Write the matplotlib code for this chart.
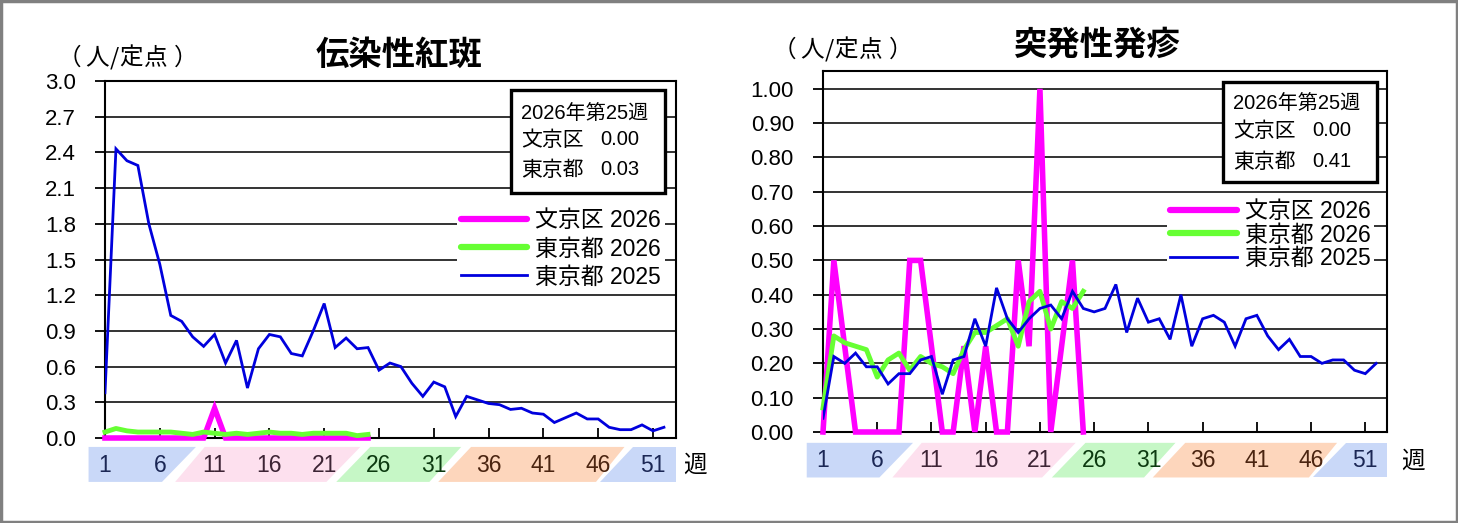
import matplotlib
matplotlib.use('Agg')
import matplotlib.pyplot as plt
from matplotlib.patches import Polygon, Rectangle
from matplotlib.lines import Line2D
import matplotlib.transforms as mtransforms

FONT = ['Liberation Sans', 'Noto Sans CJK JP']
CJK = ['Noto Sans CJK JP', 'Liberation Sans']
plt.rcParams['font.family'] = FONT

# ---------------- data ----------------
weeks_2025 = list(range(1, 53))
weeks_2026 = list(range(1, 26))
tick_weeks = [1, 6, 11, 16, 21, 26, 31, 36, 41, 46, 51]
tick_labels = ['1', '6', '11', '16', '21', '26', '31', '36', '41', '46', '51']

series_labels = ['文京区 2026', '東京都 2026', '東京都 2025']
unit_label = '（人/定点）'

# 伝染性紅斑
er_title = '伝染性紅斑'
er_bunkyo_2026 = [0, 0, 0, 0, 0, 0, 0, 0, 0, 0, 0.25, 0, 0, 0, 0, 0, 0, 0, 0, 0,
                  0, 0, 0, 0, 0]
er_tokyo_2026 = [0.05, 0.08, 0.06, 0.05, 0.05, 0.05, 0.05, 0.04, 0.03, 0.05,
                 0.04, 0.03, 0.04, 0.03, 0.04, 0.05, 0.04, 0.04, 0.03, 0.04,
                 0.04, 0.04, 0.04, 0.02, 0.03]
er_tokyo_2025 = [0.38, 2.43, 2.33, 2.29, 1.80, 1.46, 1.03, 0.98, 0.85, 0.77,
                 0.87, 0.63, 0.82, 0.42, 0.75, 0.87, 0.85, 0.71, 0.69, 0.90,
                 1.13, 0.76, 0.84, 0.75, 0.76, 0.57, 0.63, 0.60, 0.46, 0.35,
                 0.47, 0.43, 0.18, 0.35, 0.32, 0.29, 0.28, 0.24, 0.25, 0.21,
                 0.20, 0.13, 0.17, 0.21, 0.16, 0.16, 0.09, 0.07, 0.07, 0.11,
                 0.06, 0.09]
er_yticks = [0.0, 0.3, 0.6, 0.9, 1.2, 1.5, 1.8, 2.1, 2.4, 2.7, 3.0]
er_box = ['2026年第25週', '文京区', '0.00', '東京都', '0.03']

# 突発性発疹
es_title = '突発性発疹'
es_bunkyo_2026 = [0, 0.5, 0.25, 0, 0, 0, 0, 0, 0.5, 0.5, 0.25, 0, 0, 0.25, 0,
                  0.25, 0, 0, 0.5, 0.25, 1.0, 0, 0.25, 0.5, 0]
es_tokyo_2026 = [0.07, 0.28, 0.26, 0.25, 0.24, 0.16, 0.21, 0.23, 0.18, 0.22,
                 0.20, 0.19, 0.17, 0.24, 0.29, 0.29, 0.31, 0.33, 0.25, 0.38,
                 0.41, 0.30, 0.38, 0.36, 0.41]
es_tokyo_2025 = [0.04, 0.22, 0.20, 0.23, 0.19, 0.19, 0.14, 0.17, 0.17, 0.21,
                 0.22, 0.11, 0.21, 0.22, 0.33, 0.25, 0.42, 0.33, 0.29, 0.33,
                 0.36, 0.37, 0.33, 0.41, 0.36, 0.35, 0.36, 0.43, 0.29, 0.39,
                 0.32, 0.33, 0.27, 0.40, 0.25, 0.33, 0.34, 0.32, 0.25, 0.33,
                 0.34, 0.28, 0.24, 0.27, 0.22, 0.22, 0.20, 0.21, 0.21, 0.18,
                 0.17, 0.20]
es_yticks = [0.0, 0.1, 0.2, 0.3, 0.4, 0.5, 0.6, 0.7, 0.8, 0.9, 1.0]
es_box = ['2026年第25週', '文京区', '0.00', '東京都', '0.41']

# ---------------- styling ----------------
C_MAG = '#ff00ff'
C_GRN = '#66ff33'
C_BLU = '#0000dd'

# season bands: (bottom-left, top-left, bottom-right, top-right) in weeks
BLUE_BG, PINK_BG, GREEN_BG, ORANGE_BG = '#c9d8f8', '#fde0ee', '#c6f7c6', '#fdd6bc'
bands = [(-0.5, -0.5, 6.2, 9.3, BLUE_BG),
         (7.4, 10.1, 21.2, 24.3, PINK_BG),
         (22.1, 25.2, 30.6, 33.5, GREEN_BG),
         (31.4, 34.4, 45.8, 48.4, ORANGE_BG),
         (46.2, 49.2, None, None, BLUE_BG)]
label_colors = ['#1b2755', '#1b2755', '#3d2435', '#3d2435', '#3d2435',
                '#0c3a10', '#0c3a10', '#4a2410', '#4a2410', '#4a2410', '#1b2755']

fig = plt.figure(figsize=(14.58, 5.23), dpi=100)
W, H = 1458, 523


def px_axes(x0, y0, x1, y1):
    return fig.add_axes([x0 / W, 1 - y1 / H, (x1 - x0) / W, (y1 - y0) / H])


def draw_chart(ax, bunkyo, tokyo26, tokyo25, yticks, ylim, xmax, fmt,
               band_y, label_y, week_x, box_rect, box_lines_y, box_vals,
               leg_anchor, leg_spacing):
    ax.set_xlim(1, xmax)
    ax.set_ylim(*ylim)
    ax.plot(weeks_2026, bunkyo, color=C_MAG, lw=4.0, zorder=3,
            solid_joinstyle='miter', clip_on=False)
    ax.plot(weeks_2026, tokyo26, color=C_GRN, lw=3.5, zorder=4,
            solid_joinstyle='round', clip_on=False)
    ax.plot(weeks_2025, tokyo25, color=C_BLU, lw=2.0, zorder=5,
            solid_joinstyle='miter')
    ax.set_yticks(yticks)
    ax.set_yticklabels([fmt.format(v) for v in yticks], fontsize=16,
                       family=FONT)
    ax.tick_params(axis='y', direction='out', length=7, width=1.3, pad=14)
    ax.set_xticks(tick_weeks)
    ax.set_xticklabels([])
    ax.tick_params(axis='x', direction='in', length=7, width=1.3)
    for v in yticks:
        ax.axhline(v, color='#111111', lw=1.2, zorder=1)
    for s in ax.spines.values():
        s.set_linewidth(1.5)
        s.set_color('black')
    # season bands
    tr = mtransforms.blended_transform_factory(ax.transData, ax.transAxes)
    yb, yt = band_y
    for bl, tl, br, trr, col in bands:
        if br is None:
            br = trr = xmax
        poly = Polygon([(bl, yb), (br, yb), (trr, yt), (tl, yt)], closed=True,
                       facecolor=col, edgecolor='none', transform=tr,
                       clip_on=False, zorder=0)
        ax.add_patch(poly)
    for wk, lab, col in zip(tick_weeks, tick_labels, label_colors):
        ax.text(wk, label_y, lab, transform=tr, ha='center', va='center',
                fontsize=16.5, color=col, family=FONT)
    ax.text(week_x, label_y, '週', transform=tr, ha='center', va='center',
            fontsize=17, color='black', family=CJK)
    # info box
    bx0, by0, bx1, by1 = box_rect
    ax.add_patch(Rectangle((bx0, by0), bx1 - bx0, by1 - by0,
                           transform=ax.transAxes, facecolor='white',
                           edgecolor='black', lw=2.4, zorder=8))
    kw = dict(transform=ax.transAxes, ha='left', va='center', zorder=9)
    ax.text(bx0 + 0.017, box_lines_y[0], box_vals[0], fontsize=14.5,
            family=FONT, **kw)
    ax.text(bx0 + 0.017, box_lines_y[1], box_vals[1], fontsize=15,
            family=CJK, **kw)
    ax.text(bx0 + 0.157, box_lines_y[1], box_vals[2], fontsize=14.5,
            family=FONT, **kw)
    ax.text(bx0 + 0.017, box_lines_y[2], box_vals[3], fontsize=15,
            family=CJK, **kw)
    ax.text(bx0 + 0.157, box_lines_y[2], box_vals[4], fontsize=14.5,
            family=FONT, **kw)
    # legend
    handles = [Line2D([], [], color=C_MAG, lw=4.5, solid_capstyle='round'),
               Line2D([], [], color=C_GRN, lw=4.5, solid_capstyle='round'),
               Line2D([], [], color=C_BLU, lw=2.0)]
    leg = ax.legend(handles, series_labels, loc='upper right',
                    bbox_to_anchor=leg_anchor, frameon=True, fancybox=False,
                    facecolor='white', edgecolor='none', framealpha=1,
                    handlelength=2.9, handletextpad=0.35,
                    labelspacing=leg_spacing, borderpad=0.15, borderaxespad=0,
                    prop={'family': FONT, 'size': 16.5})
    leg.set_zorder(7)


def unit_text(x_off, y):
    chars = ['（', '人', '/', '定', '点', '）']
    xs = [69, 97, 114, 131, 156, 186]
    for ch, x in zip(chars, xs):
        fig.text((x + x_off) / W, 1 - y / H, ch, ha='center', va='center',
                 fontsize=17, family=CJK)


# left chart: 伝染性紅斑
axL = px_axes(105, 81, 676, 438)
draw_chart(axL, er_bunkyo_2026, er_tokyo_2026, er_tokyo_2025, er_yticks,
           (0, 3.0), 53.1, '{:.1f}', (-0.123, -0.025), -0.076, 54.8,
           (0.711, 0.686, 0.981, 0.975), (0.910, 0.835, 0.751), er_box,
           (0.980, 0.650), 0.22)

# right chart: 突発性発疹
axR = px_axes(823, 71, 1387, 432)
draw_chart(axR, es_bunkyo_2026, es_tokyo_2026, es_tokyo_2025, es_yticks,
           (0, 1.052), 53.0, '{:.2f}', (-0.126, -0.030), -0.080, 55.4,
           (0.710, 0.693, 0.983, 0.970), (0.911, 0.834, 0.748), es_box,
           (0.977, 0.653), 0.03)

# titles and units
fig.text(399 / W, 1 - 55 / H, er_title, ha='center', va='center',
         fontsize=24, fontweight='bold', family=CJK)
fig.text(1096 / W, 1 - 45 / H, es_title, ha='center', va='center',
         fontsize=24, fontweight='bold', family=CJK)
unit_text(0, 58)
unit_text(715, 50)

# outer frame
fig.patches.append(Rectangle((0.0008, 0.002), 0.9984, 0.996,
                             transform=fig.transFigure, fill=False,
                             edgecolor='#808080', lw=2.5))

fig.savefig('out.png', dpi=100, facecolor='white')
